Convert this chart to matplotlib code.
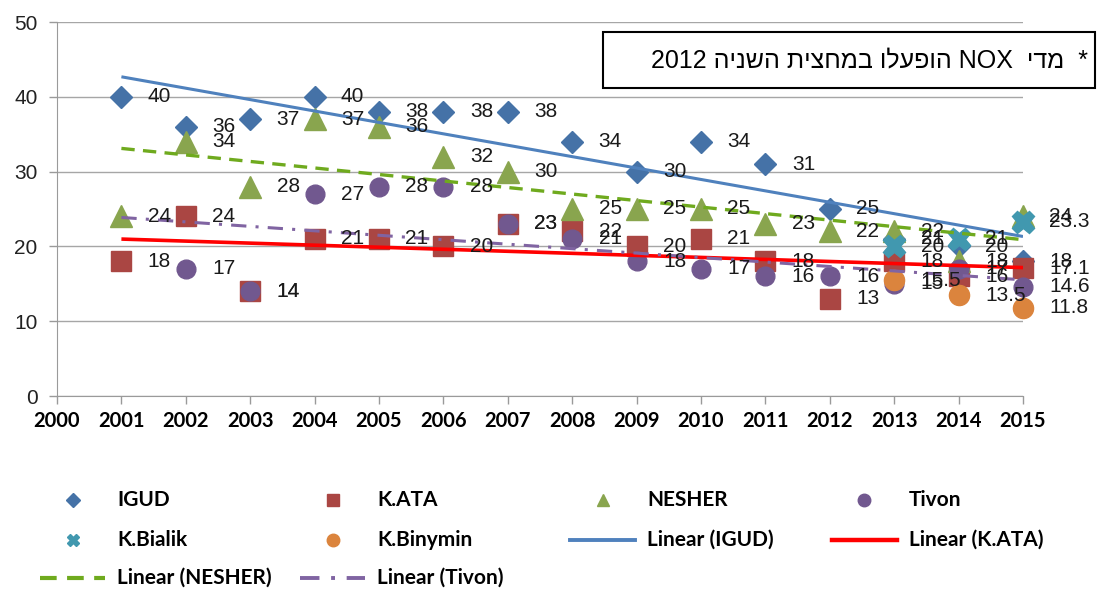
import numpy as np
import matplotlib
matplotlib.use("Agg")
import matplotlib.pyplot as plt
from matplotlib.lines import Line2D
from matplotlib.patches import Rectangle

nan = np.nan
years = np.arange(2001, 2016)
igud = [40, 36, 37, 40, 38, 38, 38, 34, 30, 34, 31, 25, 21, 20, 18]
k_ata = [18, 24, 14, 21, 21, 20, 23, 22, 20, 21, 18, 13, 18, 16, 17.1]
nesher = [24, 34, 28, 37, 36, 32, 30, 25, 25, 25, 23, 22, 22, 18, 24]
tivon = [nan, 17, 14, 27, 28, 28, 23, 21, 18, 17, 16, 16, 15, 17, 14.6]
k_bialik = [nan] * 12 + [20, 21, 23.3]
k_binymin = [nan] * 12 + [15.5, 13.5, 11.8]
note = "*  מדי  NOX הופעלו במחצית השניה 2012"

LABEL_FONT = ["Liberation Sans", "DejaVu Sans"]
BOLD_FONT = ["Lato", "DejaVu Sans"]

# name, values, marker, colour, size
points = [
    ("IGUD", igud, "D", "#4572A7", 11),
    ("K.ATA", k_ata, "s", "#AA4643", 14.5),
    ("NESHER", nesher, "^", "#89A54E", 15.5),
    ("Tivon", tivon, "o", "#71588F", 13.5),
    ("K.Bialik", k_bialik, "X", "#4198AF", 16),
    ("K.Binymin", k_binymin, "o", "#DB843D", 14.5),
]
# trend lines (fitted from the series above): name, values, colour, style, width
trends = [
    ("IGUD", igud, "#4F81BD", "-", 2.2),
    ("K.ATA", k_ata, "#FF0000", "-", 2.6),
    ("NESHER", nesher, "#6FAA1E", (0, (4, 2.5)), 2.4),
    ("Tivon", tivon, "#8064A2", (0, (5, 3, 1, 3)), 2.2),
]

fig = plt.figure(figsize=(10.99, 5.92), dpi=100)
ax = fig.add_axes([57 / 1099, 1 - 396 / 592, 966 / 1099, 374 / 592])

for name, vals, mk, col, ms in points:
    ax.plot(years, vals, linestyle="none", marker=mk, ms=ms, color=col,
            mec=col, zorder=3, clip_on=False)

for name, vals, col, ls, lw in trends:
    v = np.array(vals, dtype=float)
    ok = ~np.isnan(v)
    k, b = np.polyfit(years[ok], v[ok], 1)
    xs = np.array([years[0], years[-1]])
    ax.plot(xs, k * xs + b, color=col, ls=ls, lw=lw, zorder=4, solid_capstyle="butt")

for name, vals, mk, col, ms in points:
    for x, v in zip(years, vals):
        if np.isnan(v):
            continue
        ax.annotate(f"{v:g}", (x, v), xytext=(19, 0), textcoords="offset points",
                    va="center", ha="left", fontsize=15, color="#1a1a1a",
                    family=LABEL_FONT, zorder=5, annotation_clip=False)

ax.set_xlim(2000, 2015)
ax.set_ylim(0, 50)
ax.set_xticks(np.arange(2000, 2016))
ax.set_xticklabels([str(y) for y in range(2000, 2016)], fontsize=14.5,
                   fontweight="bold", family=BOLD_FONT)
ax.set_yticks(np.arange(0, 51, 10))
for t in ax.get_yticklabels():
    t.set_fontsize(15); t.set_family(LABEL_FONT); t.set_color("#222222")
ax.tick_params(axis="both", direction="out", length=6, color="#9a9a9a", width=1)
ax.tick_params(axis="x", pad=5)
ax.tick_params(axis="y", pad=8)
ax.yaxis.grid(True, color="#a6a6a6", lw=1)
ax.set_axisbelow(True)
for s in ("top", "right"):
    ax.spines[s].set_visible(False)
for s in ("left", "bottom"):
    ax.spines[s].set_color("#9a9a9a")

# note box (hebrew, drawn in visual order)
def visual(s):
    out = []
    for w in reversed(s.split(" ")):
        if any("\u0590" <= c <= "\u05ff" for c in w):
            w = w[::-1]
        out.append(w)
    return " ".join(out)

fig.add_artist(Rectangle((603 / 1099, 1 - 88 / 592), 492 / 1099, 56 / 592,
                         transform=fig.transFigure, fc="white", ec="black", lw=1.5))
fig.text(1088 / 1099, 1 - 60 / 592, visual(note), ha="right", va="center",
         fontsize=18, family=LABEL_FONT)

# legend laid out in excel's row order
entries = [(n, mk, col, "none", 0) for n, _, mk, col, _ in points]
entries += [(f"Linear ({n})", None, col, ls, lw) for n, _, col, ls, lw in trends]
col_x = [40, 300, 570, 832]
row_y = [500, 540, 578]
for i, (label, mk, col, ls, lw) in enumerate(entries):
    r, c = divmod(i, 4)
    x0 = col_x[c] / 1099
    y0 = 1 - row_y[r] / 592
    x1 = x0 + 65 / 1099
    if mk is None:
        fig.add_artist(Line2D([x0, x1], [y0, y0], transform=fig.transFigure,
                              color=col, ls=ls, lw=lw + 0.6))
    else:
        fig.add_artist(Line2D([(x0 + x1) / 2], [y0], transform=fig.transFigure,
                              marker=mk, ms=9 if mk != "D" else 7, color=col,
                              mec=col, ls="none"))
    fig.text(x0 + 77 / 1099, y0, label, ha="left", va="center", fontsize=15,
             fontweight="bold", family=BOLD_FONT)

fig.savefig("out.png", dpi=100, facecolor="white")
